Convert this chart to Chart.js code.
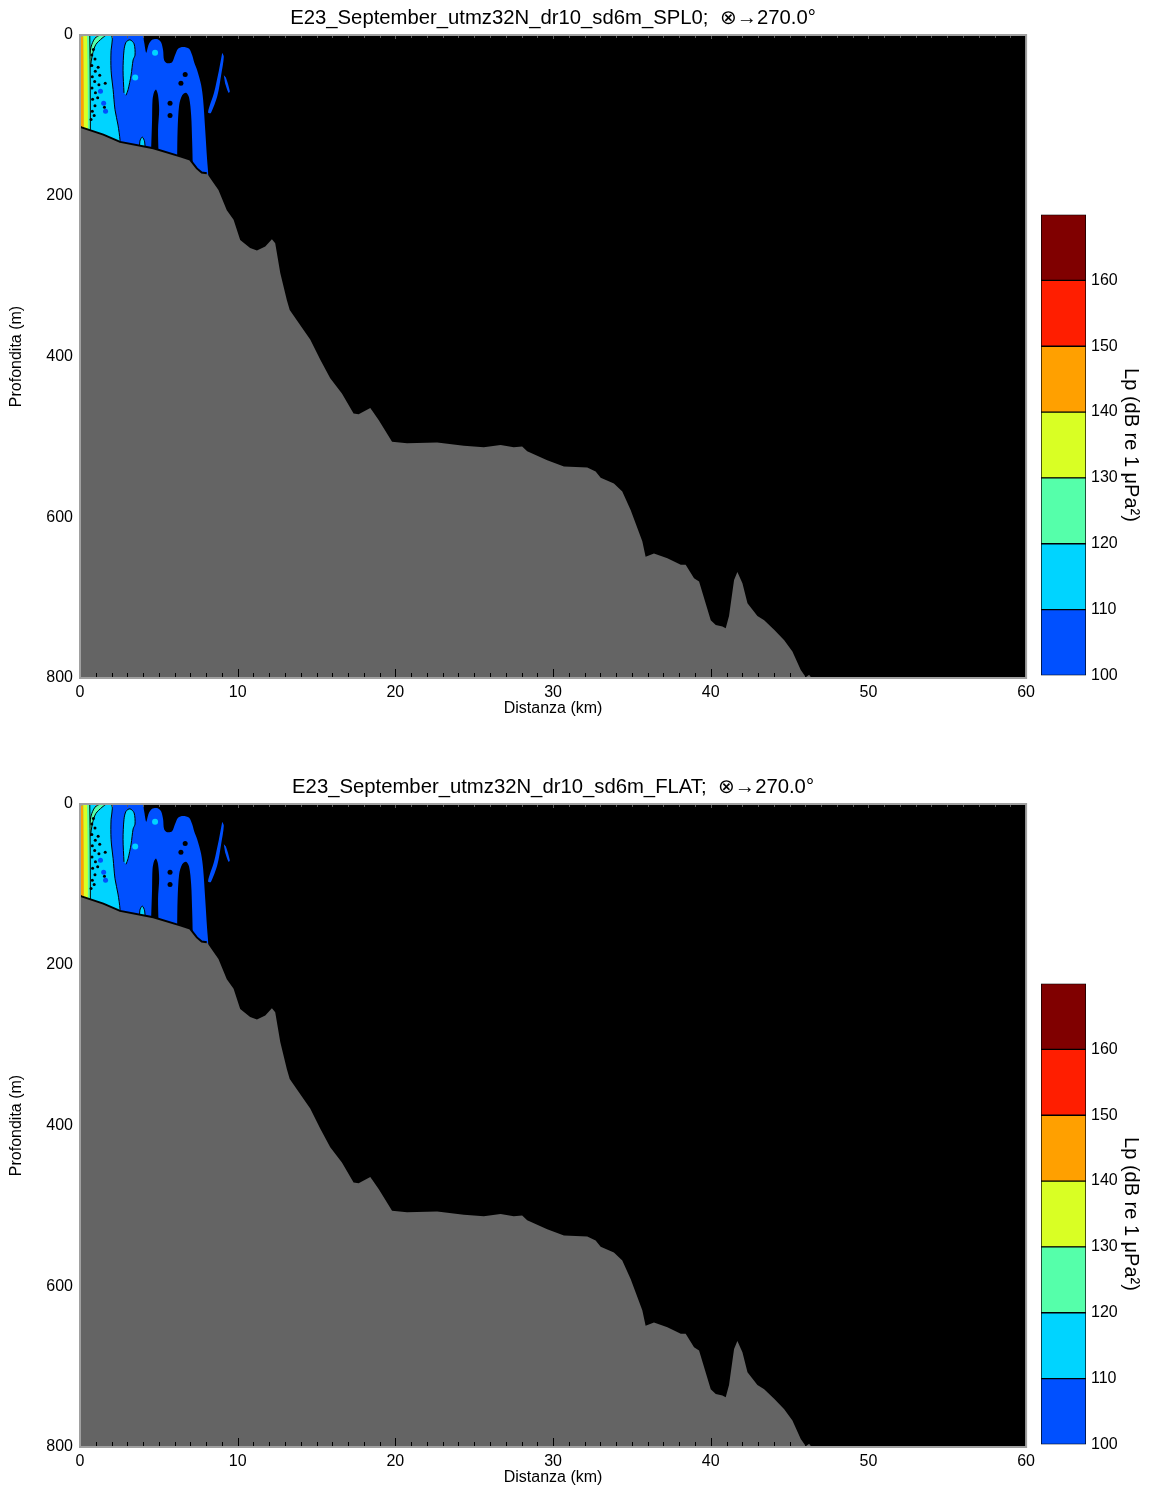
<!DOCTYPE html>
<html lang="it">
<head>
<meta charset="UTF-8">
<title>E23 September - Lp</title>
<script src="https://cdn.jsdelivr.net/npm/chart.js"></script>
<style>
  body { margin: 0; background: #fff; width: 1149px; height: 1489px; position: relative; overflow: hidden; }
  .box { position: absolute; }
</style>
</head>
<body>

<div class="box" style="left:0;top:0;width:1040px;height:720px"><canvas id="plot1"></canvas></div>
<div class="box" style="left:1035px;top:200px;width:114px;height:490px"><canvas id="cb1"></canvas></div>
<div class="box" style="left:0;top:769px;width:1040px;height:720px"><canvas id="plot2"></canvas></div>
<div class="box" style="left:1035px;top:969px;width:114px;height:490px"><canvas id="cb2"></canvas></div>

<script>
// fondale (distanza km / profondita m)
const seabedKm = [0, 0.1, 1.48, 2.54, 4.65, 6.35, 6.98, 7.41, 7.72, 8.04, 8.47, 8.78, 9.31, 9.74, 10.16, 10.79,
  11.22, 11.75, 12.17, 12.38, 12.70, 13.12, 13.3, 13.97, 14.6, 15.24, 15.87, 16.61, 17.35, 17.67, 18.41, 18.94,
  19.79, 20.74, 22.65, 24.34, 25.61, 26.67, 27.51, 28.04, 28.36, 29.63, 30.69, 32.17, 32.7, 33.02, 33.86, 34.39,
  34.92, 35.66, 35.87, 36.4, 37.25, 38.1, 38.41, 38.94, 39.26, 40.0, 40.32, 40.74, 40.95, 41.16, 41.48, 41.69,
  42.01, 42.33, 42.96, 43.39, 44.02, 44.66, 45.18, 45.71, 46.03, 46.24, 46.39, 60];
const seabedM = [114, 115, 124, 133, 141, 151, 155, 166, 171, 172, 184, 193, 218, 230, 255, 265,
  268, 263, 254, 259, 296, 330, 342, 361, 379, 404, 427, 446, 471, 472, 464, 479,
  506, 508, 507, 511, 513, 510, 513, 512, 518, 529, 537, 538, 543, 551, 558, 568,
  591, 630, 649, 645, 651, 659, 659, 676, 680, 728, 734, 736, 738, 723, 678, 668,
  682, 707, 723, 728, 740, 753, 767, 790, 799, 796, 800, 800];

// bande di livello (contorni chiusi, km / m)
const blueKm = [1.27, 3.94, 4.06, 4.2, 4.35, 4.57, 4.89, 5.14, 5.27, 5.33, 5.52, 5.84, 6.03, 6.22, 6.54, 6.92,
  7.11, 7.24, 7.43, 7.68, 7.81, 7.94, 8.06, 8.13, 8.13, 1.27];
const blueM = [0, 0, 8, 22, 12, 6, 5, 9, 19, 31, 35, 34, 25, 17, 15, 17,
  25, 34, 44, 62, 81, 118, 155, 174, 260, 260];
const cyanKm = [0, 1.95, 2.05, 1.97, 1.97, 2.1, 2.22, 2.41, 2.54, 2.6, 2.65, 0];
const cyanM = [0, 0, 6, 19, 44, 68, 93, 112, 131, 155, 260, 260];
const tongueKm = [2.79, 2.73, 2.79, 2.92, 3.17, 3.43, 3.49, 3.37, 3.24, 3.05, 2.92];
const tongueM = [72, 44, 19, 9, 6, 11, 25, 31, 50, 68, 75];
const pocketKm = [3.72, 3.8, 3.95, 4.1, 4.18];
const pocketM = [160, 132, 127, 133, 160];
const arcKm = [0.55, 0.7, 0.95, 1.3, 1.65, 1.4, 1.0, 0.78, 0.66];
const arcM = [35, 15, 4, 0, 0, 4, 12, 25, 40];
const greenKm = [0.45, 0.62, 0.62, 0.45];
const greenM = [0, 0, 260, 260];
const yellowKm = [0.2, 0.45, 0.45, 0.2];
const yellowM = [0, 0, 260, 260];
const orangeKm = [0, 0.2, 0.2, 0];
const orangeM = [2, 2, 260, 260];
const stripeKm = [9.02, 9.12, 8.95, 8.72, 8.3, 8.12, 8.5, 8.8];
const stripeM = [22, 27, 50, 75, 97, 96, 72, 45];
const stripe2Km = [9.12, 9.25, 9.5, 9.42, 9.2];
const stripe2M = [50, 53, 70, 72, 60];
const gap1Km = [4.51, 4.57, 4.6, 4.7, 4.83, 4.95, 5.02, 4.95, 4.98, 5.02, 4.51];
const gap1M = [143, 106, 81, 71, 68, 75, 93, 118, 149, 260, 260];
const gap2Km = [6.16, 6.19, 6.29, 6.48, 6.73, 6.92, 7.05, 7.11, 7.14, 7.14, 6.16];
const gap2M = [155, 118, 87, 75, 72, 78, 100, 131, 155, 260, 260];

// punti isolati
const dotKm = [0.75, 0.75, 0.78, 0.76, 0.8, 0.78, 0.95, 0.97, 0.93, 0.98, 0.95, 1.15, 1.2, 1.12, 1.25, 0.7, 0.9, 1.6, 1.55, 0.85];
const dotM = [25, 38, 52, 66, 80, 95, 30, 45, 58, 72, 88, 40, 62, 78, 50, 105, 100, 60, 90, 18];
const holeKm = [5.71, 5.71, 6.4, 6.67];
const holeM = [85, 100, 60, 49];
const bspotKm = [1.5, 1.62, 1.3];
const bspotM = [85, 95, 70];
const cspotKm = [3.5, 4.76];
const cspotM = [53, 22];

// scala colori
const levels = [100, 110, 120, 130, 140, 150, 160, 170];
const levelColors = ['#0050ff', '#00d4ff', '#55ffaa', '#d9ff24', '#ffa000', '#ff1e00', '#800000'];

const titles = ['E23_September_utmz32N_dr10_sd6m_SPL0;  \u2297\u2192270.0\u00b0',
                'E23_September_utmz32N_dr10_sd6m_FLAT;  \u2297\u2192270.0\u00b0'];

const FONT = '"Liberation Sans", Arial, Helvetica, sans-serif';
Chart.defaults.font.family = FONT;
Chart.defaults.color = '#000';

function pts(xs, ys) {
  return xs.map((x, i) => ({x: x, y: ys[i]}));
}

function shape(xs, ys, color, border) {
  return {
    data: pts(xs, ys), showLine: true, fill: 'shape', backgroundColor: color,
    borderColor: '#000', borderWidth: border ? 1 : 0, pointRadius: 0, tension: 0.3
  };
}

function dots(xs, ys, color, r) {
  return {data: pts(xs, ys), showLine: false, pointRadius: r, pointBackgroundColor: color,
          pointBorderWidth: 0, backgroundColor: color};
}

function buildDatasets() {
  const edgeKm = seabedKm.filter(k => k <= 8.1);
  return [
    {data: pts(edgeKm, seabedM.slice(0, edgeKm.length)), borderColor: '#000', borderWidth: 2,
     pointRadius: 0, fill: false, tension: 0},
    {data: pts(seabedKm, seabedM), borderWidth: 0, borderColor: '#646464', backgroundColor: '#646464',
     pointRadius: 0, fill: 'start', tension: 0},
    dots(dotKm, dotM, '#000', 1.5),
    dots(holeKm, holeM, '#000', 2.5),
    dots(cspotKm, cspotM, levelColors[1], 3),
    dots(bspotKm, bspotM, levelColors[0], 2.5),
    shape(orangeKm, orangeM, levelColors[4], false),
    shape(yellowKm, yellowM, levelColors[3], false),
    shape(greenKm, greenM, levelColors[2], true),
    shape(arcKm, arcM, levelColors[2], true),
    shape(stripeKm, stripeM, levelColors[0], false),
    shape(stripe2Km, stripe2M, levelColors[0], false),
    shape(gap1Km, gap1M, '#000', false),
    shape(gap2Km, gap2M, '#000', false),
    shape(pocketKm, pocketM, levelColors[1], true),
    shape(tongueKm, tongueM, levelColors[1], true),
    shape(cyanKm, cyanM, levelColors[1], true),
    shape(blueKm, blueM, levelColors[0], false)
  ];
}

const plotFrame = {
  id: 'plotFrame',
  beforeDraw(chart) {
    const {ctx, chartArea: a} = chart;
    ctx.save();
    ctx.fillStyle = '#000';
    ctx.fillRect(a.left, a.top, a.right - a.left, a.bottom - a.top);
    ctx.restore();
  },
  afterDraw(chart, args, opts) {
    const {ctx, chartArea: a} = chart;
    const x = chart.scales.x;
    ctx.save();
    ctx.lineWidth = 1;
    for (let k = 0; k <= 60; k++) {
      const px = Math.round(x.getPixelForValue(k)) + 0.5;
      const big = k % 10 === 0;
      ctx.strokeStyle = '#000';
      ctx.beginPath(); ctx.moveTo(px, a.bottom); ctx.lineTo(px, a.bottom - (big ? 9 : 5)); ctx.stroke();
      ctx.strokeStyle = '#5a5a5a';
      ctx.beginPath(); ctx.moveTo(px, a.top); ctx.lineTo(px, a.top + (big ? 4 : 3)); ctx.stroke();
    }
    ctx.strokeStyle = '#a0a0a0';
    ctx.lineWidth = 2;
    ctx.strokeRect(a.left, a.top, a.right - a.left, a.bottom - a.top);
    ctx.fillStyle = '#000';
    ctx.font = '20.3px ' + FONT;
    ctx.textAlign = 'center';
    ctx.textBaseline = 'middle';
    ctx.fillText(opts.title, (a.left + a.right) / 2, a.top - 17);
    ctx.restore();
  }
};

function makePlot(id, title) {
  return new Chart(document.getElementById(id), {
    type: 'line',
    data: {datasets: buildDatasets()},
    options: {
      responsive: true, maintainAspectRatio: false, animation: false,
      layout: {padding: {top: 35, right: 10, left: 0, bottom: 0}},
      plugins: {legend: {display: false}, tooltip: {enabled: false}, plotFrame: {title: title}},
      scales: {
        x: {
          type: 'linear', min: 0, max: 60,
          ticks: {stepSize: 10, font: {size: 16}, padding: 5, maxRotation: 0},
          grid: {display: false, drawTicks: false}, border: {display: false},
          title: {display: true, text: 'Distanza (km)', font: {size: 16}, padding: {top: 0, bottom: 2}},
          afterFit(s) { s.height = 42; }
        },
        y: {
          type: 'linear', reverse: true, min: 0, max: 800,
          ticks: {stepSize: 200, font: {size: 16}, padding: 7},
          grid: {display: false, drawTicks: false}, border: {display: false},
          title: {display: true, text: 'Profondita (m)', font: {size: 16}, padding: {top: 7, bottom: 0}},
          afterFit(s) { s.width = 80; }
        }
      }
    },
    plugins: [plotFrame]
  });
}

function makeColorbar(id) {
  return new Chart(document.getElementById(id), {
    type: 'bar',
    data: {
      labels: ['Lp'],
      datasets: levelColors.map((c, i) => ({
        data: [[levels[i], levels[i + 1]]], backgroundColor: c, borderColor: '#000',
        borderWidth: 1, borderSkipped: false, grouped: false,
        barPercentage: 1, categoryPercentage: 1
      }))
    },
    options: {
      responsive: true, maintainAspectRatio: false, animation: false,
      layout: {padding: {left: 6, top: 13, bottom: 12, right: 0}},
      plugins: {legend: {display: false}, tooltip: {enabled: false}},
      scales: {
        x: {display: false},
        y: {
          position: 'right', min: 100, max: 170,
          ticks: {stepSize: 10, font: {size: 16}, padding: 5, callback: v => v >= 170 ? '' : v},
          grid: {display: false, drawTicks: false}, border: {display: false},
          title: {display: true, text: 'Lp (dB re 1 \u03bcPa\u00b2)', font: {size: 20}, padding: {top: 6, bottom: 0}},
          afterFit(s) { s.width = 63; }
        }
      }
    }
  });
}

makePlot('plot1', titles[0]);
makeColorbar('cb1');
makePlot('plot2', titles[1]);
makeColorbar('cb2');
</script>

</body>
</html>
